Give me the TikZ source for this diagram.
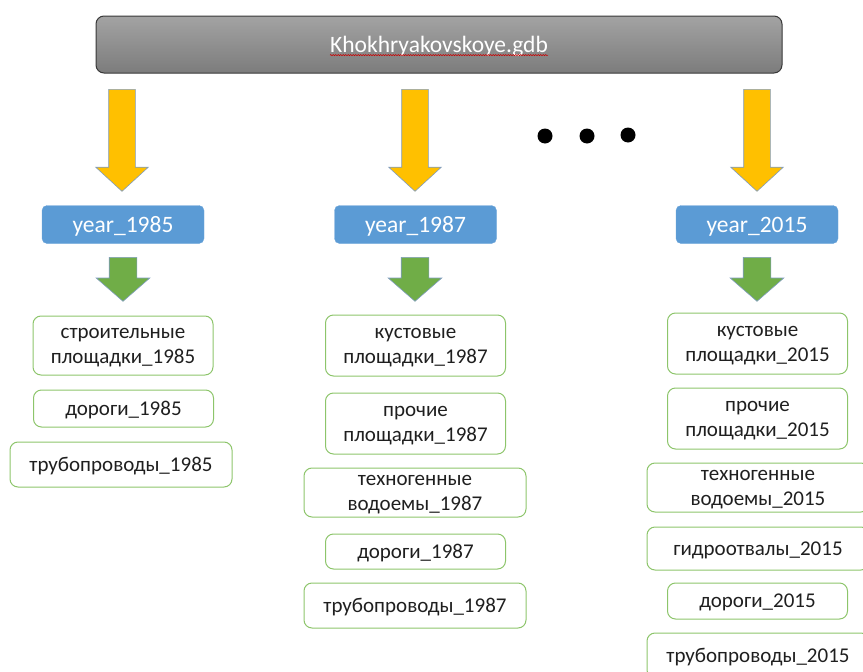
\documentclass[tikz,border=0pt]{standalone}
\usepackage{fontspec}
\setmainfont{Carlito}
\usetikzlibrary{shapes.arrows,decorations.pathmorphing}
\definecolor{arrowyellow}{HTML}{FFC000}
\definecolor{arrowgreen}{HTML}{70AD47}
\definecolor{arrowedge}{HTML}{7F9CC0}
\definecolor{yearblue}{HTML}{5B9BD5}
\definecolor{yearedge}{HTML}{6FA6DA}
\definecolor{layeredge}{HTML}{8DC56B}
\definecolor{bartop}{HTML}{A3A3A3}
\definecolor{barbottom}{HTML}{7C7C7C}
\tikzset{
  gdb/.style={draw=black!78, line width=1pt, rounded corners=8pt,
    top color=bartop, bottom color=barbottom,
    minimum width=686pt, minimum height=57pt},
  gdbtext/.style={text=white, inner sep=0pt, font=\fontsize{23.5}{27}\selectfont},
  spell/.style={draw=red!80!black, line width=.5pt, decorate,
    decoration={snake, amplitude=.6pt, segment length=2.5pt}},
  bigdown/.style={single arrow, rotate=-90, anchor=tail, draw=arrowedge,
    line width=.6pt, fill=arrowyellow, inner xsep=0pt, inner ysep=13pt,
    minimum height=102pt, minimum width=0pt, single arrow head extend=13pt,
    single arrow tip angle=95},
  smalldown/.style={single arrow, rotate=-90, anchor=tail, draw=arrowedge,
    line width=.6pt, fill=arrowgreen, inner xsep=0pt, inner ysep=13.5pt,
    minimum height=44pt, minimum width=0pt, single arrow head extend=13pt,
    single arrow tip angle=98},
  year/.style={draw=yearedge, fill=yearblue, rounded corners=5pt, text=white,
    minimum width=162pt, minimum height=38pt, text height=15pt, text depth=0pt,
    font=\fontsize{23.5}{27}\selectfont},
  layer/.style={draw=layeredge, line width=1pt, rounded corners=8pt,
    text=black!88, align=center, inner sep=0pt, text depth=0pt,
    font=\fontsize{21}{25}\selectfont},
  narrow/.style={layer, minimum width=180pt},
  wide/.style={layer, minimum width=222pt},
  dot/.style={circle, fill=black, inner sep=0pt, minimum size=15pt}
}

\begin{document}
\begin{tikzpicture}[x=1pt,y=-1pt]
\useasboundingbox (0,0) rectangle (863,672);
\clip (0,0) rectangle (863,672);

% geodatabase
\node[gdb] (db) at (439,44.5) {};
\node[gdbtext] (dbname) at (439,46) {Khokhryakovskoye.gdb};
\draw[spell] ([yshift=-3pt]dbname.base west) -- ([yshift=-3pt]dbname.base east);

\node[bigdown] (toA) at (122,89) {};
\node[bigdown] (toB) at (415,89) {};
\node[bigdown] (toC) at (757,89) {};

\node[dot] (dotA) at (545,136) {};
\node[dot] (dotB) at (587,136) {};
\node[dot] (dotC) at (628,135) {};

% years
\node[year] (yearA) at (123,224.5) {year\_1985};
\node[year] (yearB) at (415.5,224.5) {year\_1987};
\node[year] (yearC) at (757,224.5) {year\_2015};

\node[smalldown] (downA) at (123,257) {};
\node[smalldown] (downB) at (415,257) {};
\node[smalldown] (downC) at (757,257) {};

% 1985
\node[narrow, minimum height=59pt] (buildA) at (123,345.5) {строительные\\площадки\_1985};
\node[narrow, minimum height=37pt] (roadA) at (123.5,408.5) {дороги\_1985};
\node[wide, minimum height=45pt] (pipeA) at (121,464.5) {трубопроводы\_1985};

% 1987
\node[narrow, minimum height=61pt] (padB) at (415.5,345.5) {кустовые\\площадки\_1987};
\node[narrow, minimum height=61pt] (otherB) at (415.5,423.5) {прочие\\площадки\_1987};
\node[wide, minimum height=49pt] (pondB) at (415,492.5) {техногенные\\водоемы\_1987};
\node[narrow, minimum height=35pt] (roadB) at (415.5,551.5) {дороги\_1987};
\node[wide, minimum height=45pt] (pipeB) at (415,605.5) {трубопроводы\_1987};

% 2015
\node[narrow, minimum height=61pt] (padC) at (757.5,343.5) {кустовые\\площадки\_2015};
\node[narrow, minimum height=61pt] (otherC) at (757.5,418.5) {прочие\\площадки\_2015};
\node[wide, minimum height=49pt] (pondC) at (758,487.5) {техногенные\\водоемы\_2015};
\node[wide, minimum height=43pt] (sludgeC) at (758,548.5) {гидроотвалы\_2015};
\node[narrow, minimum height=36pt] (roadC) at (757.5,601) {дороги\_2015};
\node[wide, minimum height=45pt] (pipeC) at (758,655.5) {трубопроводы\_2015};

\end{tikzpicture}
\end{document}
